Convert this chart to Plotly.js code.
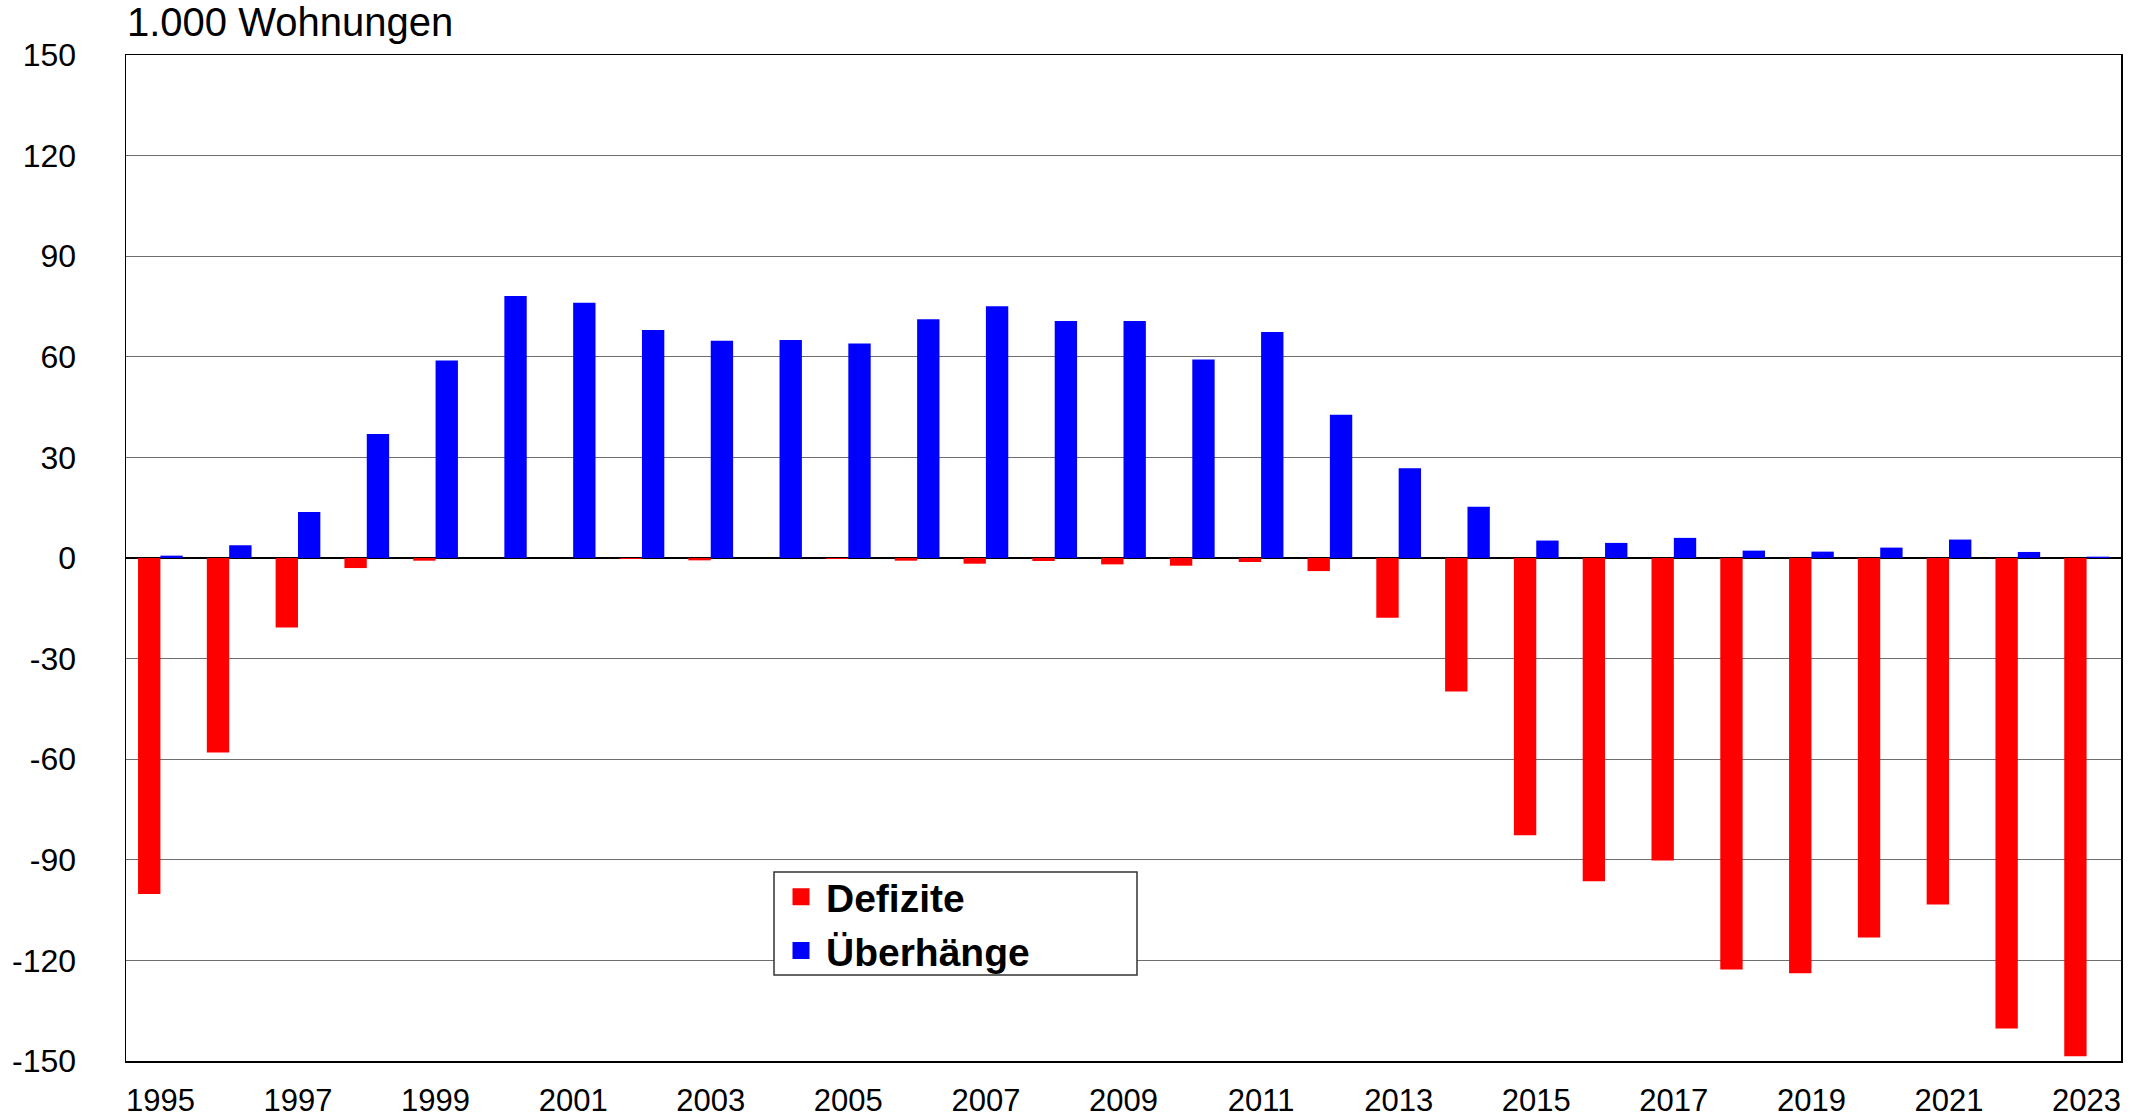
<!DOCTYPE html>
<html><head><meta charset="utf-8">
<script src="https://cdn.plot.ly/plotly-3.0.1.min.js"></script>
<style>html,body{margin:0;padding:0;background:#fff}#chart{width:2147px;height:1120px}</style>
</head><body><div id="chart"></div>
<script>
const years = ['1995','1996','1997','1998','1999','2000','2001','2002','2003','2004','2005','2006','2007','2008','2009','2010','2011','2012','2013','2014','2015','2016','2017','2018','2019','2020','2021','2022','2023'];
const defizite = [-100.2,-58.0,-20.7,-3.0,-0.8,0,0,-0.3,-0.7,0,-0.3,-0.8,-1.7,-0.9,-1.9,-2.3,-1.2,-3.9,-17.8,-39.8,-82.7,-96.4,-90.2,-122.7,-123.8,-113.2,-103.3,-140.3,-148.6];
const ueberhaenge = [0.7,3.8,13.7,37.0,58.9,78.1,76.1,68.0,64.8,65.0,64.0,71.2,75.1,70.7,70.7,59.2,67.4,42.7,26.8,15.3,5.2,4.5,6.0,2.2,1.9,3.1,5.5,1.8,0.4];
const tickYears = ['1995','1997','1999','2001','2003','2005','2007','2009','2011','2013','2015','2017','2019','2021','2023'];
const yTicks = [-150,-120,-90,-60,-30,0,30,60,90,120,150];
const seriesNames = ['Defizite','Überhänge'];
const seriesColors = ['#ff0000','#0000ff'];
const titleText = '1.000 Wohnungen';

const FONT = 'Arial, "Liberation Sans", sans-serif';

// plot area in pixels (for placing the legend frame in paper units)
const PL = 126, PR = 2121, PT = 55, PB = 1061;
const px2x = v => (v - PL) / (PR - PL);
const px2y = v => (PB - v) / (PB - PT);

const data = [
  {type:'bar', x:years, y:defizite, name:seriesNames[0], offsetgroup:'a',
   marker:{color:seriesColors[0], line:{width:0}}, showlegend:false, hoverinfo:'x+y'},
  {type:'bar', x:years, y:ueberhaenge, name:seriesNames[1], offsetgroup:'b',
   marker:{color:seriesColors[1], line:{width:0}}, showlegend:false, hoverinfo:'x+y'},
  // legend entries (no visible bars)
  {type:'bar', x:[years[0]], y:[null], name:seriesNames[0], offsetgroup:'a',
   marker:{color:seriesColors[0], line:{width:5, color:seriesColors[0]}}, showlegend:true},
  {type:'bar', x:[years[0]], y:[null], name:seriesNames[1], offsetgroup:'b',
   marker:{color:seriesColors[1], line:{width:5, color:seriesColors[1]}}, showlegend:true}
];

const layout = {
  width:2147, height:1120,
  paper_bgcolor:'#ffffff', plot_bgcolor:'#ffffff',
  margin:{l:PL, r:2147-PR, t:PT, b:1120-PB, pad:0},
  font:{family:FONT, color:'#000000', size:31},
  title:{text:titleText, font:{family:FONT, size:40, color:'#000'},
         xref:'container', x:127/2147, xanchor:'left',
         yref:'container', y:1-8/1120, yanchor:'top'},
  barmode:'group', bargap:0.35, bargroupgap:0,
  showlegend:true,
  legend:{x:px2x(776), y:px2y(865), xanchor:'left', yanchor:'top',
          bgcolor:'rgba(0,0,0,0)', borderwidth:0,
          font:{family:FONT, size:39, color:'#000', weight:'bold'},
          traceorder:'normal', itemwidth:40},
  shapes:[
    {type:'rect', xref:'paper', yref:'paper', layer:'above',
     x0:px2x(774), x1:px2x(1137), y0:px2y(975), y1:px2y(872),
     fillcolor:'#ffffff', line:{color:'#333333', width:1.5}}
  ],
  xaxis:{type:'category', tickmode:'array', tickvals:tickYears, ticktext:tickYears,
         showgrid:false, ticks:'', showline:true, mirror:true, linecolor:'#000', linewidth:1.5,
         tickfont:{family:FONT, size:31, color:'#000'}, ticklabelstandoff:11,
         zeroline:false, fixedrange:true},
  yaxis:{range:[-150,150], tickmode:'array', tickvals:yTicks, ticktext:yTicks.map(String),
         showgrid:true, gridcolor:'#6e6e6e', gridwidth:1.3,
         zeroline:true, zerolinecolor:'#000', zerolinewidth:2,
         showline:true, mirror:true, linecolor:'#000', linewidth:1.5, ticks:'',
         tickfont:{family:FONT, size:32, color:'#000'}, ticklabelstandoff:42, fixedrange:true}
};

Plotly.newPlot('chart', data, layout, {displayModeBar:false, staticPlot:true});
</script>
</body></html>
